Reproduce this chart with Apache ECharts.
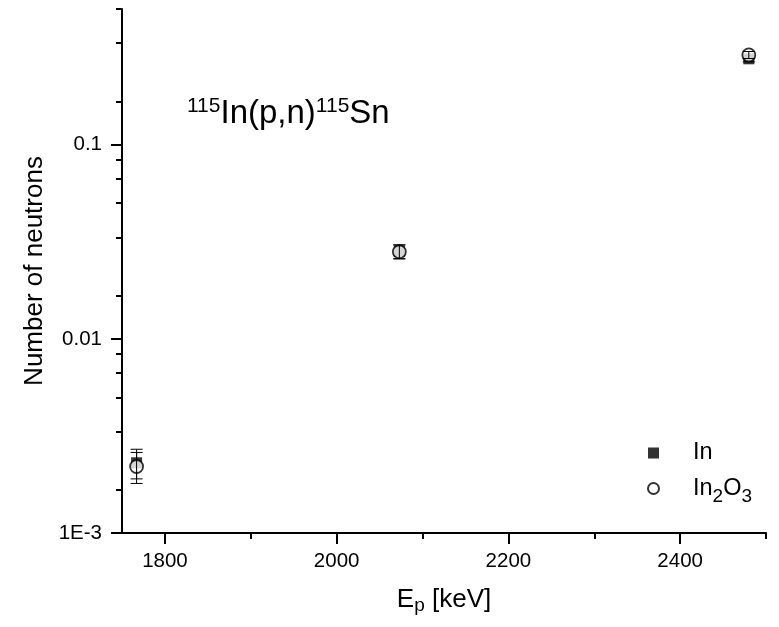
<!DOCTYPE html>
<html><head><meta charset="utf-8">
<script src="https://cdn.jsdelivr.net/npm/echarts@6/dist/echarts.min.js"></script>
<style>html,body{margin:0;padding:0;background:#fff}#c{width:779px;height:627px}</style>
</head><body><div id="c"></div>
<script>
const energies = [1767, 2073, 2480];
const inValues = [0.0023, 0.0282, 0.277];
const inErrors = [0.0004, 0.0023, 0.010];
const in2o3Values = [0.0022, 0.0281, 0.290];
const in2o3Errors = [0.0004, 0.0023, 0.012];
const xMajorTicks = [1800, 2000, 2200, 2400];
const xMinorTicks = [1900, 2100, 2300, 2500];
const yMajorTicks = [0.001, 0.01, 0.1];
const yMinorTicks = [0.0016667, 0.0033333, 0.005, 0.0066667, 0.0083333,
                     0.016667, 0.033333, 0.05, 0.066667, 0.083333,
                     0.16667, 0.33333, 0.5];
const seriesNames = ['In', 'In2O3'];

const FONT = 'Liberation Sans';
const axisLineStyle = {color: '#000', width: 2};

function errorSeries(name, vals, errs, z) {
  return {
    type: 'custom', name: name, z: z, silent: true,
    data: energies.map((x, i) => [x, vals[i] - errs[i], vals[i] + errs[i]]),
    encode: {x: 0, y: [1, 2]},
    renderItem(params, api) {
      const x = api.value(0);
      const lo = api.coord([x, api.value(1)]);
      const hi = api.coord([x, api.value(2)]);
      const w = 6;
      const style = {stroke: '#000', lineWidth: 1};
      return {type: 'group', children: [
        {type: 'line', shape: {x1: lo[0], y1: lo[1], x2: hi[0], y2: hi[1]}, style: style},
        {type: 'line', shape: {x1: lo[0] - w, y1: lo[1], x2: lo[0] + w, y2: lo[1]}, style: style},
        {type: 'line', shape: {x1: hi[0] - w, y1: hi[1], x2: hi[0] + w, y2: hi[1]}, style: style}
      ]};
    }
  };
}

const chart = echarts.init(document.getElementById('c'), null, {renderer: 'canvas'});
chart.setOption({
  animation: false,
  backgroundColor: '#fff',
  textStyle: {fontFamily: FONT, color: '#000'},
  grid: {left: 122, right: 13, top: 9, bottom: 94, containLabel: false, outerBoundsMode: 'none'},
  xAxis: [{
    type: 'value', min: 1750, max: 2500, position: 'bottom',
    axisLine: {show: true, lineStyle: axisLineStyle, onZero: false},
    axisTick: {show: true, inside: false, length: 11, lineStyle: {color: '#000', width: 2}, customValues: xMajorTicks},
    axisLabel: {show: true, customValues: xMajorTicks, fontSize: 20.5, color: '#000', fontFamily: FONT, margin: 18,
      formatter: v => String(v)},
    splitLine: {show: false},
    name: 'E{sub|p} [keV]', nameLocation: 'middle', nameGap: 51,
    nameTextStyle: {fontSize: 26, color: '#000', fontFamily: FONT,
      rich: {sub: {fontSize: 19, fontFamily: FONT, color: '#000', padding: [12, 0, 0, 0]}}}
  }, {
    type: 'value', min: 1750, max: 2500, position: 'bottom',
    axisLine: {show: false, onZero: false},
    axisTick: {show: true, inside: false, length: 6, lineStyle: {color: '#000', width: 2}, customValues: xMinorTicks},
    axisLabel: {show: false},
    splitLine: {show: false}
  }],
  yAxis: [{
    type: 'log', logBase: 10, min: 0.001, max: 0.5, position: 'left',
    axisLine: {show: true, lineStyle: axisLineStyle, onZero: false},
    axisTick: {show: true, inside: false, length: 11, lineStyle: {color: '#000', width: 2}, customValues: yMajorTicks},
    axisLabel: {show: true, customValues: yMajorTicks, fontSize: 20.5, color: '#000', fontFamily: FONT, margin: 20,
      formatter: v => (Math.abs(v - 0.001) < 1e-9 ? '1E-3' : String(+v.toPrecision(6)))},
    splitLine: {show: false},
    name: 'Number of neutrons', nameLocation: 'middle', nameGap: 74,
    nameTextStyle: {fontSize: 26, color: '#000', fontFamily: FONT}
  }, {
    type: 'log', logBase: 10, min: 0.001, max: 0.5, position: 'left',
    axisLine: {show: false, onZero: false},
    axisTick: {show: true, inside: false, length: 6, lineStyle: {color: '#000', width: 2}, customValues: yMinorTicks},
    axisLabel: {show: false},
    splitLine: {show: false}
  }],
  legend: {
    orient: 'vertical', left: 642, top: 436, itemGap: 6, padding: 5,
    itemWidth: 11, itemHeight: 11,
    data: [{name: 'In', icon: 'rect'}, {name: 'In2O3', icon: 'circle'}],
    formatter: n => (n === 'In2O3' ? '{p|In}{sub|2}{m|O}{sub|3}' : '{p|In}'),
    textStyle: {fontSize: 23.5, color: '#000', fontFamily: FONT,
      rich: {p: {fontSize: 23.5, lineHeight: 24, fontFamily: FONT, color: '#000', padding: [0, 0, 0, 29]},
             m: {fontSize: 23.5, lineHeight: 24, fontFamily: FONT, color: '#000'},
             sub: {fontSize: 19, lineHeight: 24, fontFamily: FONT, color: '#000', padding: [16, 0, 0, 0]}}}
  },
  graphic: [{
    type: 'text', left: 187, top: 96,
    style: {
      text: '{sup|115}{m|In(p,n)}{sup|115}{m|Sn}',
      fill: '#000',
      rich: {
        m: {fontSize: 33, lineHeight: 36, fontFamily: FONT, fill: '#000'},
        sup: {fontSize: 21, fontFamily: FONT, fill: '#000', padding: [0, 0, 14, 0]}
      }
    }
  }],
  series: [
    errorSeries('In err', inValues, inErrors, 1),
    {type: 'scatter', name: seriesNames[0], z: 2, symbol: 'rect', symbolSize: 11,
     itemStyle: {color: '#000'},
     data: energies.map((x, i) => [x, inValues[i]])},
    {type: 'scatter', name: seriesNames[1], z: 3, symbol: 'circle', symbolSize: 13,
     itemStyle: {color: '#fff', borderColor: '#000', borderWidth: 1.8},
     data: energies.map((x, i) => [x, in2o3Values[i]])},
    errorSeries('In2O3 err', in2o3Values, in2o3Errors, 4)
  ]
});
</script>
</body></html>
